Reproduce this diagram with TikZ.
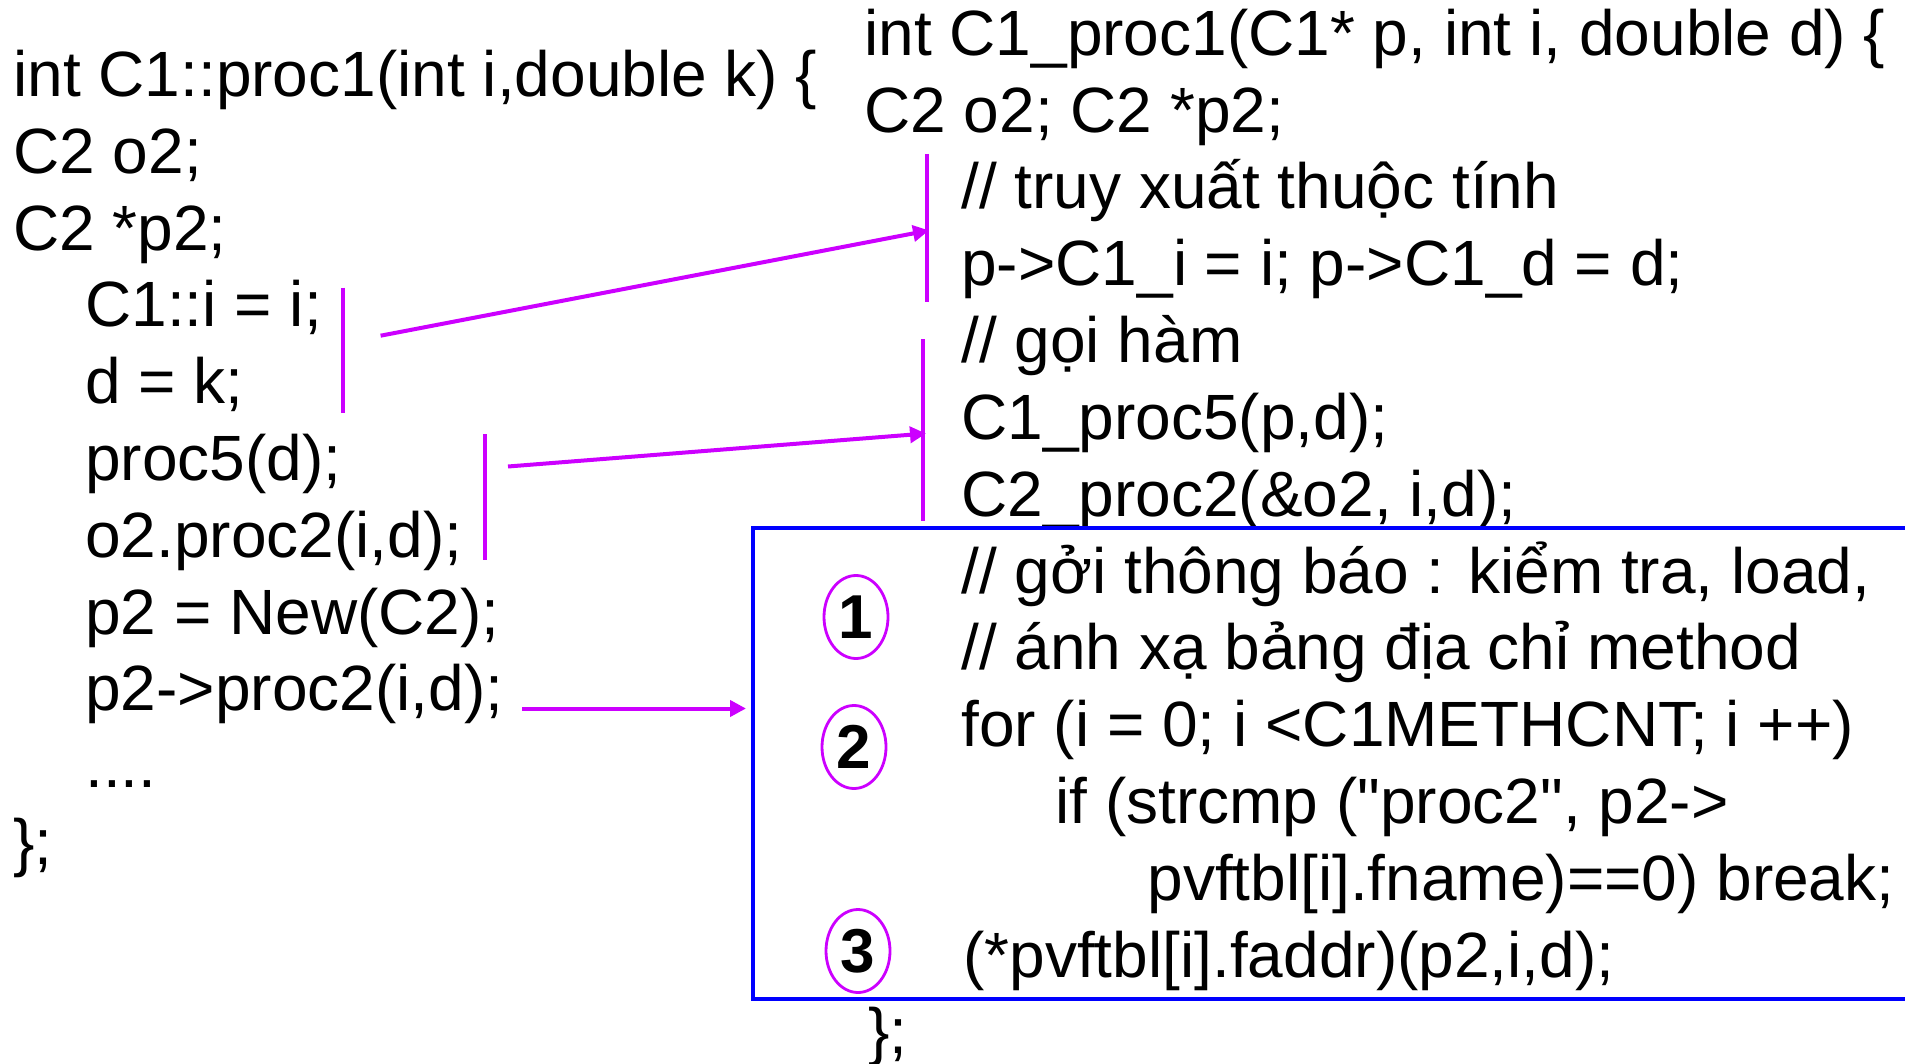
\documentclass[tikz,border=0pt]{standalone}
\usepackage{fontspec}
\setmainfont{Liberation Sans}
\usetikzlibrary{arrows.meta,shapes.geometric}

\definecolor{callpink}{RGB}{204,0,255}
\definecolor{boxblue}{RGB}{0,0,255}

\tikzset{
  code/.style={anchor=base west,inner sep=0pt,font=\fontsize{32}{38}\selectfont},
  numcircle/.style={ellipse,draw=callpink,line width=1.4pt,minimum width=32pt,
    minimum height=41.5pt,inner sep=0pt,font=\fontsize{31}{31}\selectfont\bfseries},
  bracket/.style={callpink,line width=2pt},
  callarrow/.style={callpink,line width=2pt,-{Triangle[length=8pt,width=8pt]}},
  boxline/.style={boxblue,line width=1.9pt}
}

\begin{document}
\begin{tikzpicture}[line cap=butt,line join=miter,x=0.5pt,y=-0.5pt]
    \useasboundingbox (0,0) rectangle (1905,1064);

    % C++ method
    \node[code] (l1) at (13,96.4) {int C1::proc1(int i,double k) \{};
    \node[code] (l2) at (13,173.2) {C2 o2;};
    \node[code] (l3) at (13,250) {C2 *p2;};
    \node[code] (l4) at (85,326.8) {C1::i = i;};
    \node[code] (l5) at (85,403.6) {d = k;};
    \node[code] (l6) at (85,480.4) {proc5(d);};
    \node[code] (l7) at (85,557.2) {o2.proc2(i,d);};
    \node[code] (l8) at (85,634) {p2 = New(C2);};
    \node[code] (l9) at (85,710.8) {p2->proc2(i,d);};
    \node[code] (l10) at (85,787.6) {....};
    \node[code] (l11) at (13,864.4) {\};};

    % C translation
    \node[code] (r1) at (864,55.4) {int C1\_proc1(C1* p, int i, double d) \{};
    \node[code] (r2) at (864,132.2) {C2 o2; C2 *p2;};
    \node[code] (r3) at (961,209) {// truy xuất thuộc tính};
    \node[code] (r4) at (961,285.8) {p->C1\_i = i; p->C1\_d = d;};
    \node[code] (r5) at (961,362.6) {// gọi hàm};
    \node[code] (r6) at (961,439.4) {C1\_proc5(p,d);};
    \node[code] (r7) at (961,516.2) {C2\_proc2(\&o2, i,d);};
    \node[code] (r8) at (961,593) {// gởi thông báo : kiểm tra, load,};
    \node[code] (r9) at (961,669.8) {// ánh xạ bảng địa chỉ method};
    \node[code] (r10) at (961,746.6) {for (i = 0; i <C1METHCNT; i ++)};
    \node[code] (r11) at (1055,823.4) {if (strcmp (\textquotedbl proc2\textquotedbl, p2->};
    \node[code] (r12) at (1147,900.2) {pvftbl[i].fname)==0) break;};
    \node[code] (r13) at (963,977) {(*pvftbl[i].faddr)(p2,i,d);};
    \node[code] (r14) at (868,1053.8) {\};};

    \node[numcircle] (n1) at (856,617) {1};
    \node[numcircle] (n2) at (854,747) {2};
    \node[numcircle] (n3) at (858,951) {3};

    \draw[boxline] (1910,528) -| (753,999) -- (1910,999);

    \coordinate (b1t) at (342.5,287.5);
    \coordinate (b1b) at (342.5,412.5);
    \coordinate (b2t) at (485,434);
    \coordinate (b2b) at (485,560);
    \coordinate (c1t) at (927,154);
    \coordinate (c1b) at (927,302);
    \coordinate (c2t) at (923,339);
    \coordinate (c2b) at (923,521);
    \draw[bracket] (b1t) -- (b1b);
    \draw[bracket] (b2t) -- (b2b);
    \draw[bracket] (c1t) -- (c1b);
    \draw[bracket] (c2t) -- (c2b);

    \coordinate (a1) at (380.6,335.7);
    \coordinate (e1) at (929,230.4);
    \coordinate (a2) at (508,466.5);
    \coordinate (e2) at (926,433.5);
    \coordinate (a3) at (522,708.5);
    \coordinate (e3) at (746,708.5);
    \draw[callarrow] (a1) -- (e1);
    \draw[callarrow] (a2) -- (e2);
    \draw[callarrow] (a3) -- (e3);
\end{tikzpicture}
\end{document}
